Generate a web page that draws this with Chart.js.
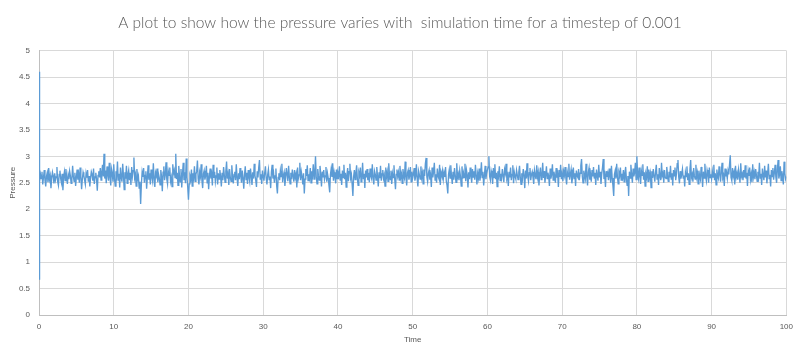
<!DOCTYPE html>
<html>
<head>
<meta charset="utf-8">
<script src="https://cdn.jsdelivr.net/npm/chart.js@4/dist/chart.umd.min.js"></script>
<style>
html,body{margin:0;padding:0;background:#fff;}
#wrap{width:800px;height:355px;position:relative;}
</style>
</head>
<body>
<div id="wrap"><canvas id="c" width="800" height="355"></canvas></div>
<script>
const chartTitle = "A plot to show how the pressure varies with  simulation time for a timestep of 0.001";
const xAxisTitle = "Time";
const yAxisTitle = "Pressure";
const xTicks = [0,10,20,30,40,50,60,70,80,90,100];
const yTicks = [0,0.5,1,1.5,2,2.5,3,3.5,4,4.5,5];
const yTickLabels = ["0","0.5","1","1.5","2","2.5","3","3.5","4","4.5","5"];

// start-up transient (time, pressure)
const startTimes = [0, 0.04, 0.08];
const startPressure = [0.68, 4.6, 2.55];

// sampled pressure after start-up, one value every sampleStep time units from 0.1 to 100
const sampleStep = 0.1;
const pressure = [
 2.52,2.66,2.58,2.71,2.47,2.60,2.74,2.55,2.43,2.62,2.69,2.51,2.78,2.57,2.64,2.40,2.59,2.70,2.63,2.49,
 2.68,2.55,2.61,2.80,2.52,2.45,2.66,2.73,2.58,2.50,2.67,2.36,2.62,2.71,2.54,2.76,2.60,2.48,2.65,2.57,
 2.72,2.63,2.49,2.58,2.82,2.61,2.53,2.69,2.44,2.60,2.75,2.56,2.66,2.50,2.79,2.62,2.38,2.57,2.70,2.64,
 2.55,2.47,2.68,2.60,2.74,2.52,2.63,2.43,2.59,2.71,2.66,2.54,2.77,2.48,2.61,2.69,2.57,2.35,2.64,2.72,
 2.60,2.78,2.55,2.70,2.84,2.62,3.05,2.58,2.73,2.49,2.81,2.66,2.54,2.88,2.61,2.45,2.76,2.68,2.52,2.85,
 2.58,2.44,2.72,2.63,2.90,2.55,2.67,2.41,2.79,2.60,2.52,2.86,2.64,2.37,2.70,2.58,2.82,2.49,2.66,2.74,
 2.55,2.69,2.46,2.80,2.62,2.73,2.98,2.59,2.66,2.44,2.76,2.57,2.63,2.40,2.52,2.10,2.48,2.70,2.61,2.78,
 2.50,2.64,2.72,2.39,2.60,2.83,2.56,2.68,2.47,2.75,2.61,2.53,2.87,2.58,2.42,2.69,2.63,2.77,2.51,2.66,
 2.59,2.46,2.74,2.62,2.34,2.70,2.81,2.55,2.65,2.89,2.57,2.48,2.72,2.64,2.79,2.53,2.61,2.43,2.85,2.68,
 2.74,2.60,3.05,2.57,2.69,2.45,2.82,2.63,2.52,2.76,2.41,2.67,2.88,2.55,2.70,2.49,2.96,2.61,2.42,2.18,
 2.48,2.63,2.57,2.75,2.44,2.68,2.60,2.81,2.53,2.66,2.72,2.92,2.58,2.47,2.70,2.62,2.85,2.55,2.40,2.67,
 2.73,2.56,2.64,2.82,2.50,2.69,2.38,2.61,2.77,2.58,2.66,2.45,2.84,2.59,2.71,2.52,2.63,2.79,2.47,2.68,
 2.57,2.74,2.62,2.43,2.69,2.55,2.80,2.64,2.51,2.72,2.90,2.58,2.67,2.46,2.76,2.60,2.53,2.83,2.62,2.49,
 2.66,2.71,2.55,2.85,2.60,2.44,2.68,2.57,2.78,2.63,2.50,2.73,2.59,2.39,2.65,2.81,2.56,2.69,2.48,2.74,
 2.61,2.52,2.77,2.64,2.46,2.70,2.58,2.86,2.63,2.55,2.42,2.72,2.60,2.79,2.93,2.57,2.66,2.48,2.73,2.62,
 2.54,2.69,2.81,2.59,2.47,2.65,2.75,2.56,2.62,2.40,2.71,2.84,2.58,2.67,2.50,2.63,2.77,2.45,2.30,2.60,
 2.68,2.55,2.73,2.62,2.86,2.51,2.64,2.70,2.44,2.59,2.78,2.66,2.53,2.82,2.61,2.48,2.69,2.57,2.75,2.63,
 2.52,2.74,2.60,2.67,2.41,2.79,2.58,2.65,2.88,2.55,2.71,2.62,2.47,2.68,2.30,2.57,2.76,2.63,2.83,2.54,
 2.66,2.59,2.78,2.50,2.72,2.64,2.85,2.57,2.69,3.00,2.61,2.48,2.76,2.63,2.55,2.82,2.67,2.43,2.71,2.60,
 2.74,2.56,2.63,2.80,2.52,2.68,2.59,2.45,2.32,2.66,2.77,2.61,2.87,2.54,2.70,2.62,2.49,2.75,2.58,2.69,
 2.63,2.81,2.55,2.67,2.46,2.73,2.60,2.84,2.57,2.69,2.42,2.64,2.78,2.53,2.71,2.86,2.59,2.66,2.48,2.25,
 2.62,2.74,2.56,2.68,2.83,2.58,2.45,2.70,2.64,2.79,2.52,2.61,2.88,2.57,2.67,2.40,2.73,2.60,2.76,2.55,
 2.69,2.51,2.77,2.63,2.58,2.85,2.60,2.47,2.72,2.66,2.55,2.80,2.62,2.43,2.70,2.59,2.82,2.54,2.67,2.74,
 2.58,2.65,2.44,2.79,2.61,2.71,2.53,2.87,2.64,2.56,2.73,2.48,2.68,2.60,2.83,2.57,2.38,2.66,2.75,2.62,
 2.70,2.55,2.82,2.60,2.67,2.49,2.76,2.63,2.58,2.90,2.61,2.45,2.69,2.74,2.56,2.64,2.80,2.52,2.71,2.59,
 2.66,2.78,2.54,2.62,2.85,2.58,2.43,2.72,2.65,2.57,2.81,2.60,2.69,2.48,2.75,2.63,2.86,2.97,2.61,2.52,
 2.68,2.74,2.56,2.63,2.42,2.79,2.60,2.71,2.88,2.55,2.66,2.50,2.77,2.62,2.58,2.84,2.46,2.70,2.64,2.73,
 2.57,2.69,2.61,2.80,2.53,2.45,2.30,2.66,2.75,2.59,2.83,2.62,2.48,2.71,2.56,2.78,2.64,2.51,2.87,2.60,
 2.67,2.55,2.73,2.62,2.44,2.81,2.58,2.69,2.60,2.86,2.53,2.74,2.65,2.41,2.70,2.57,2.79,2.63,2.50,2.76,
 2.61,2.72,2.56,2.84,2.64,2.47,2.68,2.59,2.77,2.54,2.66,2.89,2.60,2.71,2.45,2.63,2.82,2.57,2.68,2.74,
 2.80,3.00,2.62,2.55,2.73,2.66,2.48,2.78,2.60,2.85,2.57,2.69,2.43,2.72,2.64,2.81,2.54,2.67,2.59,2.76,
 2.63,2.51,2.75,2.68,2.86,2.58,2.64,2.44,2.71,2.60,2.79,2.55,2.66,2.83,2.49,2.70,2.62,2.57,2.74,2.65,
 2.56,2.70,2.82,2.61,2.47,2.68,2.59,2.76,2.64,2.40,2.73,2.58,2.87,2.62,2.53,2.69,2.78,2.55,2.66,2.71,
 2.60,2.48,2.74,2.65,2.57,2.83,2.61,2.70,2.45,2.67,2.79,2.56,2.63,2.88,2.59,2.72,2.50,2.64,2.81,2.58,
 2.69,2.62,2.44,2.77,2.58,2.66,2.85,2.55,2.71,2.63,2.50,2.78,2.60,2.67,2.42,2.74,2.61,2.84,2.57,2.68,
 2.53,2.72,2.64,2.80,2.59,2.47,2.70,2.62,2.86,2.56,2.66,2.75,2.49,2.61,2.79,2.58,2.68,2.44,2.73,2.63,
 2.60,2.76,2.55,2.68,2.82,2.95,2.62,2.50,2.73,2.64,2.57,2.86,2.61,2.45,2.70,2.78,2.56,2.66,2.52,2.74,
 2.62,2.80,2.58,2.69,2.46,2.75,2.63,2.54,2.84,2.60,2.71,2.48,2.67,2.79,2.95,2.57,2.65,2.42,2.72,2.61,
 2.68,2.55,2.77,2.63,2.50,2.82,2.59,2.44,2.25,2.66,2.73,2.58,2.86,2.61,2.48,2.70,2.64,2.79,2.55,2.67,
 2.60,2.74,2.52,2.68,2.80,2.57,2.45,2.63,2.25,2.71,2.59,2.84,2.65,2.50,2.77,2.62,2.69,2.88,2.56,3.00,
 2.66,2.58,2.79,2.62,2.48,2.73,2.64,2.85,2.56,2.70,2.44,2.67,2.61,2.81,2.53,2.75,2.60,2.68,2.41,2.72,
 2.59,2.76,2.63,2.52,2.70,2.84,2.57,2.66,2.46,2.78,2.62,2.55,2.88,2.64,2.69,2.50,2.74,2.61,2.58,2.80,
 2.65,2.53,2.71,2.60,2.82,2.57,2.68,2.45,2.74,2.63,2.79,2.55,2.67,2.86,2.93,2.61,2.49,2.72,2.58,2.66,
 2.76,2.59,2.64,2.43,2.70,2.62,2.81,2.55,2.68,2.47,2.75,2.93,2.60,2.66,2.52,2.78,2.63,2.57,2.84,2.61,
 2.69,2.48,2.73,2.62,2.56,2.80,2.65,2.42,2.71,2.59,2.86,2.63,2.54,2.74,2.67,2.50,2.79,2.60,2.66,2.57,
 2.72,2.61,2.84,2.55,2.68,2.46,2.75,2.63,2.58,2.81,2.66,2.52,2.70,2.88,2.59,2.64,2.44,2.77,2.62,2.69,
 2.58,2.73,2.66,2.85,3.02,2.60,2.54,2.78,2.63,2.70,2.47,2.82,2.61,2.68,2.56,2.75,2.64,2.50,2.87,2.62,
 2.67,2.55,2.74,2.60,2.83,2.58,2.69,2.44,2.72,2.63,2.79,2.56,2.66,2.51,2.85,2.61,2.70,2.57,2.76,2.64,
 2.53,2.71,2.62,2.88,2.59,2.67,2.46,2.77,2.64,2.55,2.82,2.60,2.73,2.49,2.68,2.86,2.58,2.65,2.43,2.74,
 2.62,2.78,2.56,2.69,2.84,2.61,2.50,2.75,2.93,2.58,2.66,2.81,2.54,2.72,2.63,2.47,2.90,2.68,2.57,2.62
];

const points = [];
startTimes.forEach((t, i) => points.push({x: t, y: startPressure[i]}));
pressure.forEach((p, i) => points.push({x: Math.round((i + 1) * sampleStep * 10) / 10, y: p}));

const textColor = '#595959';
const gridColor = '#d9d9d9';
const tickFont = { family: 'Liberation Sans', size: 8 };

new Chart(document.getElementById('c'), {
  type: 'line',
  data: {
    datasets: [{
      data: points,
      borderColor: '#5B9BD5',
      borderWidth: 1.35,
      pointRadius: 0,
      tension: 0,
      fill: false
    }]
  },
  options: {
    responsive: false,
    animation: false,
    events: [],
    layout: { padding: { left: 11, right: 11, top: 0, bottom: 0 } },
    plugins: {
      legend: { display: false },
      tooltip: { enabled: false },
      title: {
        display: true,
        text: chartTitle,
        color: textColor,
        font: { family: 'Lato', size: 15.5, weight: 300 },
        padding: { top: 14, bottom: 18 }
      }
    },
    scales: {
      x: {
        type: 'linear',
        min: xTicks[0],
        max: xTicks[xTicks.length - 1],
        afterBuildTicks: s => { s.ticks = xTicks.map(v => ({value: v})); },
        ticks: { color: textColor, font: tickFont, padding: 7, maxRotation: 0, callback: v => String(v) },
        grid: { color: gridColor, drawTicks: false },
        border: { color: '#bfbfbf' },
        title: { display: true, text: xAxisTitle, color: textColor, font: tickFont, padding: { top: 2, bottom: 10 } },
        afterFit: s => { s.height = 40; }
      },
      y: {
        type: 'linear',
        min: yTicks[0],
        max: yTicks[yTicks.length - 1],
        afterBuildTicks: s => { s.ticks = yTicks.map(v => ({value: v})); },
        ticks: { color: textColor, font: tickFont, padding: 9, callback: (v) => yTickLabels[yTicks.indexOf(v)] ?? String(v) },
        grid: { color: gridColor, drawTicks: false },
        border: { color: '#bfbfbf' },
        title: { display: true, text: yAxisTitle, color: textColor, font: tickFont, padding: { top: -3, bottom: 0 } },
        afterFit: s => { s.width = 28; }
      }
    }
  }
});
</script>
</body>
</html>
